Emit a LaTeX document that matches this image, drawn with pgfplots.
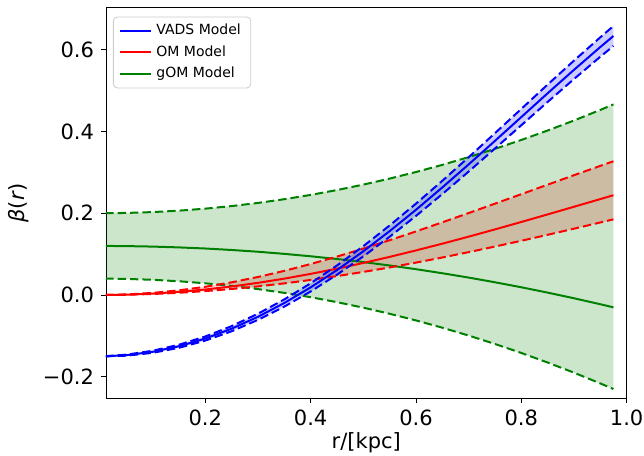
\documentclass[border=0pt]{standalone}
\usepackage{fontspec}
\setmainfont{DejaVu Sans}
\usepackage{pgfplots}
\pgfplotsset{compat=1.18}
\usepackage{pgfplotstable}
\usepgfplotslibrary{fillbetween}

\definecolor{mplgreen}{HTML}{008000}
\definecolor{mplblue}{HTML}{0000FF}
\definecolor{mplred}{HTML}{FF0000}

\pgfplotstableread{
r vc vu vl oc ou ol gc gu gl
0.01 -0.1499 -0.1497 -0.1502 0.0000 0.0001 0.0000 0.1200 0.2000 0.0400
0.05 -0.1473 -0.1460 -0.1485 0.0008 0.0013 0.0006 0.1196 0.2007 0.0393
0.10 -0.1390 -0.1365 -0.1415 0.0034 0.0051 0.0024 0.1184 0.2028 0.0372
0.15 -0.1254 -0.1217 -0.1292 0.0076 0.0114 0.0054 0.1164 0.2063 0.0336
0.20 -0.1065 -0.1015 -0.1115 0.0134 0.0201 0.0095 0.1137 0.2112 0.0286
0.25 -0.0824 -0.0762 -0.0887 0.0208 0.0310 0.0147 0.1101 0.2175 0.0223
0.30 -0.0533 -0.0458 -0.0608 0.0297 0.0440 0.0211 0.1058 0.2252 0.0144
0.35 -0.0196 -0.0109 -0.0284 0.0400 0.0590 0.0284 0.1006 0.2343 0.0052
0.40 0.0186 0.0286 0.0086 0.0516 0.0757 0.0368 0.0947 0.2448 -0.0054
0.45 0.0609 0.0722 0.0497 0.0644 0.0939 0.0462 0.0880 0.2567 -0.0175
0.50 0.1069 0.1194 0.0944 0.0783 0.1134 0.0564 0.0805 0.2700 -0.0310
0.55 0.1562 0.1700 0.1425 0.0932 0.1340 0.0674 0.0722 0.2847 -0.0459
0.60 0.2084 0.2234 0.1934 0.1090 0.1555 0.0792 0.0631 0.3008 -0.0622
0.65 0.2630 0.2793 0.2468 0.1255 0.1777 0.0917 0.0532 0.3183 -0.0800
0.70 0.3194 0.3369 0.3019 0.1427 0.2004 0.1048 0.0426 0.3372 -0.0992
0.75 0.3770 0.3958 0.3583 0.1604 0.2234 0.1185 0.0311 0.3575 -0.1198
0.80 0.4352 0.4552 0.4152 0.1786 0.2466 0.1326 0.0189 0.3792 -0.1418
0.85 0.4934 0.5147 0.4722 0.1971 0.2698 0.1472 0.0058 0.4023 -0.1652
0.90 0.5507 0.5732 0.5282 0.2158 0.2930 0.1622 -0.0080 0.4268 -0.1900
0.95 0.6065 0.6303 0.5828 0.2346 0.3158 0.1774 -0.0226 0.4527 -0.2163
0.975 0.6336 0.6580 0.6092 0.2441 0.3272 0.1851 -0.0302 0.4662 -0.2300
}\data

\begin{document}
\begin{tikzpicture}
\begin{axis}[
  scale only axis,
  width=260.3pt, height=195.2pt,
  xmin=0.0114, xmax=1.0, ymin=-0.252, ymax=0.703,
  xtick={0.2,0.4,0.6,0.8,1.0}, xticklabels={0.2,0.4,0.6,0.8,1.0},
  ytick={-0.2,0,0.2,0.4,0.6}, yticklabels={−0.2,0.0,0.2,0.4,0.6},
  xtick pos=lower, ytick pos=left,
  tick align=outside, major tick length=2.5pt,
  tick style={black, line width=0.4pt},
  axis line style={black, line width=0.4pt},
  ticklabel style={font=\fontsize{10.5}{12}\selectfont},
  label style={font=\fontsize{10.5}{12}\selectfont},
  xlabel={r/[kpc]},
  xlabel style={yshift=3.5pt},
  ylabel={\textit{β}(\textit{r})},
  legend style={at={(0,1)}, anchor=north west, xshift=3.5pt, yshift=-4.5pt,
    draw=black!20, rounded corners=2pt, fill=white, fill opacity=0.8, text opacity=1,
    font=\fontsize{7}{8}\selectfont, inner xsep=3pt, inner ysep=1.5pt, row sep=0pt},
  legend cell align=left,
  legend image code/.code={\draw[#1] (0pt,0pt) -- (15.5pt,0pt);},
  every axis plot/.append style={line width=1pt},
]
\addlegendimage{mplblue}\addlegendentry{VADS Model}
\addlegendimage{mplred}\addlegendentry{OM Model}
\addlegendimage{mplgreen}\addlegendentry{gOM Model}

% band boundaries (named paths)
\addplot[name path=gu, draw=none, forget plot] table[x=r,y=gu]{\data};
\addplot[name path=gl, draw=none, forget plot] table[x=r,y=gl]{\data};
\addplot[name path=ou, draw=none, forget plot] table[x=r,y=ou]{\data};
\addplot[name path=ol, draw=none, forget plot] table[x=r,y=ol]{\data};
\addplot[name path=vu, draw=none, forget plot] table[x=r,y=vu]{\data};
\addplot[name path=vl, draw=none, forget plot] table[x=r,y=vl]{\data};
% fills
\addplot[fill=mplred, fill opacity=0.2, draw=none, forget plot] fill between[of=ou and ol];
\addplot[fill=mplgreen, fill opacity=0.2, draw=none, forget plot] fill between[of=gu and gl];
\addplot[fill=mplblue, fill opacity=0.2, draw=none, forget plot] fill between[of=vu and vl];

\addplot[mplgreen, dash pattern=on 4.2pt off 2pt, forget plot] table[x=r,y=gu]{\data};
\addplot[mplgreen, dash pattern=on 4.2pt off 2pt, forget plot] table[x=r,y=gl]{\data};
\addplot[mplgreen, forget plot] table[x=r,y=gc]{\data};

\addplot[mplred, dash pattern=on 4.2pt off 2pt, forget plot] table[x=r,y=ou]{\data};
\addplot[mplred, dash pattern=on 4.2pt off 2pt, forget plot] table[x=r,y=ol]{\data};
\addplot[mplred, forget plot] table[x=r,y=oc]{\data};

\addplot[mplblue, dash pattern=on 4.2pt off 2pt, forget plot] table[x=r,y=vu]{\data};
\addplot[mplblue, dash pattern=on 4.2pt off 2pt, forget plot] table[x=r,y=vl]{\data};
\addplot[mplblue, forget plot] table[x=r,y=vc]{\data};
\end{axis}
\pgfresetboundingbox
\path[use as bounding box] (current axis.south west) ++(-53pt,-29pt) rectangle ++(322pt,228pt);
\end{tikzpicture}
\end{document}
